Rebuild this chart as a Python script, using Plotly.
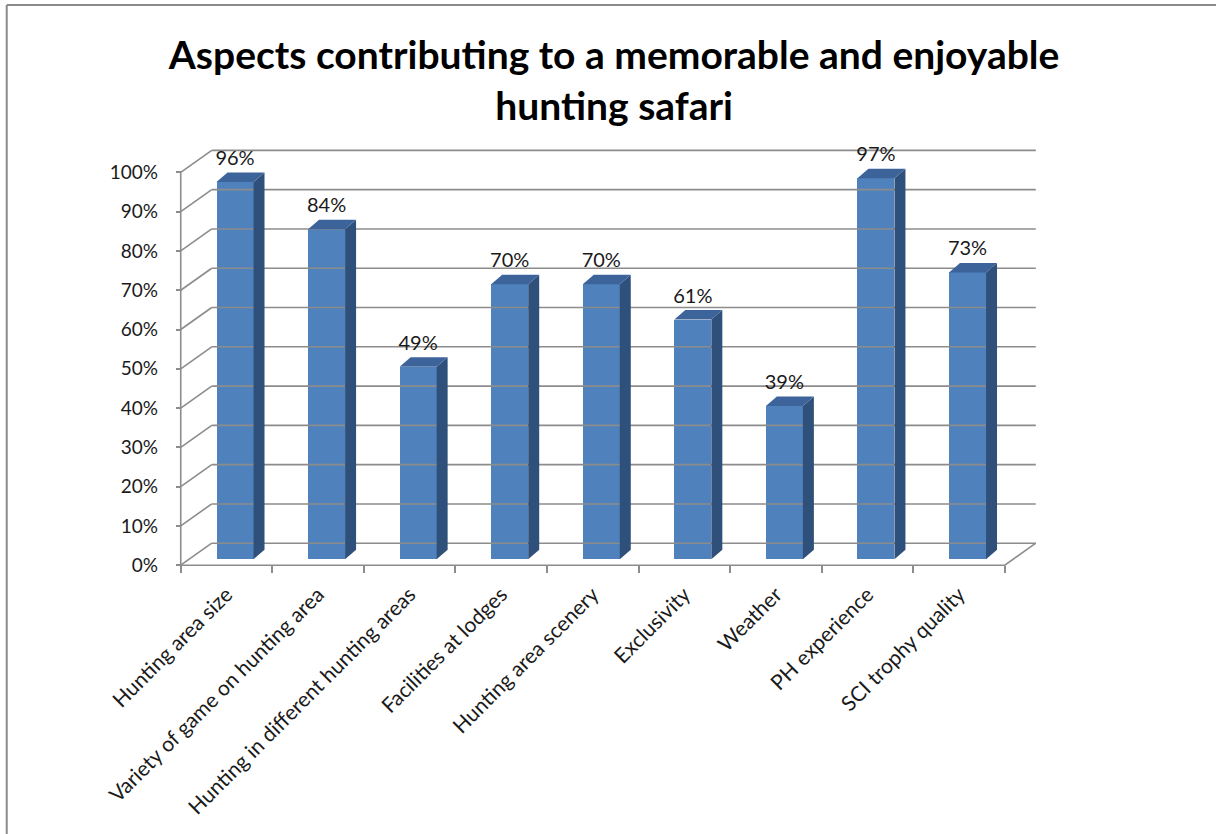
import plotly.graph_objects as go

# --- chart data -------------------------------------------------------------
categories = [
    "Hunting area size",
    "Variety of game on hunting area",
    "Hunting in different hunting areas",
    "Facilities at lodges",
    "Hunting area scenery",
    "Exclusivity",
    "Weather",
    "PH experience",
    "SCI trophy quality",
]
values = [96, 84, 49, 70, 70, 61, 39, 97, 73]
y_ticks = [0, 10, 20, 30, 40, 50, 60, 70, 80, 90, 100]
y_tick_labels = [f"{t}%" for t in y_ticks]
title_text = "Aspects contributing to a memorable and enjoyable<br>hunting safari"

# --- page geometry ----------------------------------------------------------
W, H = 1216, 834
PX_X = 91.56        # pixels per category step
PX_Y = 3.9276       # pixels per percentage point
ORIGIN_X = 181.0    # pixel x of the front axis (category edge -0.5)
ORIGIN_Y = 565.2    # pixel y of 0 % on the front plane

X_RANGE = [-0.65, 8.95]
Y_RANGE = [-3.0, 108.5]

ml = ORIGIN_X + (X_RANGE[0] + 0.5) * PX_X
plot_w = (X_RANGE[1] - X_RANGE[0]) * PX_X
mr = W - ml - plot_w
mt = ORIGIN_Y - Y_RANGE[1] * PX_Y
plot_h = (Y_RANGE[1] - Y_RANGE[0]) * PX_Y
mb = H - mt - plot_h

# 3-D depth offsets (pixels converted to data units)
WALL_DX, WALL_DY = 31 / PX_X, 22 / PX_Y        # floor / back wall depth
BAR_FX, BAR_FY = 8.5 / PX_X, 6 / PX_Y          # bar front face shift
BAR_DX, BAR_DY = 11 / PX_X, 9.5 / PX_Y         # bar depth
BAR_W = 37 / PX_X
LABEL_GAP = 22 / PX_Y

GRID = "#8C8C8C"
FRONT = "#4F81BD"
SIDE = "#30507C"
TOP = "#3C649A"
FONT = "Lato"
TEXT = "#1a1a1a"

n = len(categories)
x_left, x_right = -0.5, n - 0.5

fig = go.Figure()

# walls, floor and gridlines
gx, gy = [], []
for t in y_ticks:
    gx += [x_left + WALL_DX, x_right + WALL_DX, None]
    gy += [t + WALL_DY, t + WALL_DY, None]
    gx += [x_left, x_left + WALL_DX, None]
    gy += [t, t + WALL_DY, None]
gx += [x_left, x_right, x_right + WALL_DX, None]
gy += [0, 0, WALL_DY, None]
gx += [x_left, x_left, None]
gy += [0, 100, None]
fig.add_trace(go.Scatter(x=gx, y=gy, mode="lines", line=dict(color=GRID, width=1.6),
                         hoverinfo="skip", showlegend=False, cliponaxis=False))

# bars: front faces
centers = [i + BAR_FX for i in range(n)]
fig.add_trace(go.Bar(x=centers, y=values, base=[BAR_FY] * n, width=BAR_W,
                     marker=dict(color=FRONT, line=dict(width=0)),
                     showlegend=False, hoverinfo="skip"))

# bars: side and top faces
for i, v in enumerate(values):
    xl = centers[i] - BAR_W / 2
    xr = centers[i] + BAR_W / 2
    y0 = BAR_FY
    y1 = BAR_FY + v
    fig.add_trace(go.Scatter(
        x=[xr, xr + BAR_DX, xr + BAR_DX, xr, xr],
        y=[y0, y0 + BAR_DY, y1 + BAR_DY, y1, y0],
        mode="lines", fill="toself", fillcolor=SIDE, line=dict(width=0, color=SIDE),
        hoverinfo="skip", showlegend=False))
    fig.add_trace(go.Scatter(
        x=[xl, xl + BAR_DX, xr + BAR_DX, xr, xl],
        y=[y1, y1 + BAR_DY, y1 + BAR_DY, y1, y1],
        mode="lines", fill="toself", fillcolor=TOP, line=dict(width=0, color=TOP),
        hoverinfo="skip", showlegend=False))

# value labels
fig.add_trace(go.Scatter(
    x=centers, y=[BAR_FY + v + LABEL_GAP for v in values],
    mode="text", text=[f"{v}%" for v in values], textposition="middle center",
    textfont=dict(family=FONT, size=20, color=TEXT),
    hoverinfo="skip", showlegend=False, cliponaxis=False))

# chart-area border (top and left edges)
def paper_x(px):
    return (px - ml) / plot_w


def paper_y(py):
    return (H - mb - py) / plot_h


border = dict(color="#8A8A8A", width=2)
fig.add_shape(type="line", xref="paper", yref="paper",
              x0=paper_x(7), y0=paper_y(5), x1=paper_x(W + 5), y1=paper_y(5), line=border)
fig.add_shape(type="line", xref="paper", yref="paper",
              x0=paper_x(7), y0=paper_y(5), x1=paper_x(7), y1=paper_y(H + 5), line=border)

fig.update_layout(
    width=W, height=H,
    margin=dict(l=ml, r=mr, t=mt, b=mb, pad=0),
    paper_bgcolor="white", plot_bgcolor="white",
    bargap=0,
    title=dict(text=title_text, x=0.505, xref="container", xanchor="center",
               y=1 - 69 / H, yref="container", yanchor="middle",
               font=dict(family=FONT, size=39, color="black", weight="bold")),
    xaxis=dict(range=X_RANGE, showgrid=False, zeroline=False, showline=False,
               tickmode="array", tickvals=list(range(n)), ticktext=categories,
               ticks="", tickangle=-45, ticklabelstandoff=12,
               tickfont=dict(family=FONT, size=21, color=TEXT),
               anchor="free", position=(0 - Y_RANGE[0]) / (Y_RANGE[1] - Y_RANGE[0]),
               minor=dict(tickmode="array", tickvals=[k - 0.5 for k in range(n + 1)],
                          ticks="outside", ticklen=7, tickwidth=1.6, tickcolor=GRID,
                          showgrid=False)),
    yaxis=dict(range=Y_RANGE, showgrid=False, zeroline=False, showline=False,
               tickmode="array", tickvals=y_ticks, ticktext=y_tick_labels,
               ticks="outside", ticklen=5, tickwidth=1.6, tickcolor=GRID,
               ticklabelstandoff=14,
               tickfont=dict(family=FONT, size=19, color=TEXT),
               anchor="free", position=(x_left - X_RANGE[0]) / (X_RANGE[1] - X_RANGE[0])),
)

fig.write_html("out.html")
